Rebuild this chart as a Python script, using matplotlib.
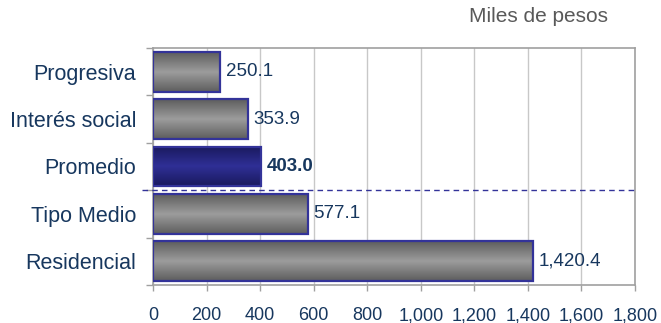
import matplotlib
matplotlib.use("Agg")
import matplotlib.pyplot as plt
import numpy as np
from matplotlib.ticker import FuncFormatter, FixedLocator

plt.rcParams['font.family'] = ['Liberation Sans', 'DejaVu Sans']

categories = ["Progresiva", "Interés social", "Promedio", "Tipo Medio", "Residencial"]
values = [250.1, 353.9, 403.0, 577.1, 1420.4]
labels = ["250.1", "353.9", "403.0", "577.1", "1,420.4"]
highlight = "Promedio"
xticks = [0, 200, 400, 600, 800, 1000, 1200, 1400, 1600, 1800]
unit_label = "Miles de pesos"

txt_color = "#17375E"
edge_color = "#333399"

fig = plt.figure(figsize=(6.61, 3.23), dpi=100)
ax = fig.add_axes([153/661, 1-285/323, (635-153)/661, (285-48)/323])

y = np.arange(len(categories))
bars = ax.barh(y, values, height=0.84, facecolor='none', edgecolor=edge_color,
               linewidth=1.6, zorder=3)

grad = np.abs(np.linspace(-1, 1, 64))[:, None]
gray_cmap = matplotlib.colors.LinearSegmentedColormap.from_list("g", ["#9c9c9c", "#5e5e5e"])
blue_cmap = matplotlib.colors.LinearSegmentedColormap.from_list("b", ["#2f2f96", "#1a1a5e"])
for cat, bar in zip(categories, bars):
    x0, y0, w, h = bar.get_x(), bar.get_y(), bar.get_width(), bar.get_height()
    cmap = blue_cmap if cat == highlight else gray_cmap
    im = ax.imshow(grad, extent=[x0, x0 + w, y0 + h, y0], aspect='auto', cmap=cmap,
                   vmin=0, vmax=1, zorder=2, interpolation='bilinear')
    im.set_clip_path(bar)

for cat, bar, lab in zip(categories, bars, labels):
    ax.annotate(lab, (bar.get_width(), bar.get_y() + bar.get_height()/2),
                xytext=(4, 0), textcoords='offset points', va='center', ha='left',
                fontsize=13.5, color=txt_color,
                fontweight='bold' if cat == highlight else 'normal', zorder=5)

ax.set_xlim(0, 1800)
ax.set_ylim(len(categories) - 0.5, -0.5)
ax.set_xticks(xticks)
ax.xaxis.set_major_formatter(FuncFormatter(lambda v, p: f"{v:,.0f}"))
ax.set_yticks(y)
ax.set_yticklabels(categories)
ax.yaxis.set_minor_locator(FixedLocator(np.arange(-0.5, len(categories), 1.0)))
ax.tick_params(axis='y', which='major', length=0, pad=12, labelsize=15.5, labelcolor=txt_color)
ax.tick_params(axis='y', which='minor', length=5, color='#a0a0a0', width=1)
ax.tick_params(axis='x', which='major', length=4, color='#a0a0a0', width=1, pad=12,
               labelsize=13, labelcolor=txt_color)
ax.grid(axis='x', color='#c8c8c8', linewidth=1, zorder=0)
ax.set_axisbelow(True)
for s in ax.spines.values():
    s.set_color('#a0a0a0')
    s.set_linewidth(1.2)

idx = categories.index(highlight)
ax.axhline(idx + 0.5, xmin=-0.023, xmax=1, color=edge_color, linestyle=(0, (4, 3)),
           linewidth=1, clip_on=False, zorder=4)

fig.text(608/661, 1 - 17/323, unit_label, ha='right', va='center', fontsize=15, color='#595959')

fig.savefig("out.png", dpi=100)
